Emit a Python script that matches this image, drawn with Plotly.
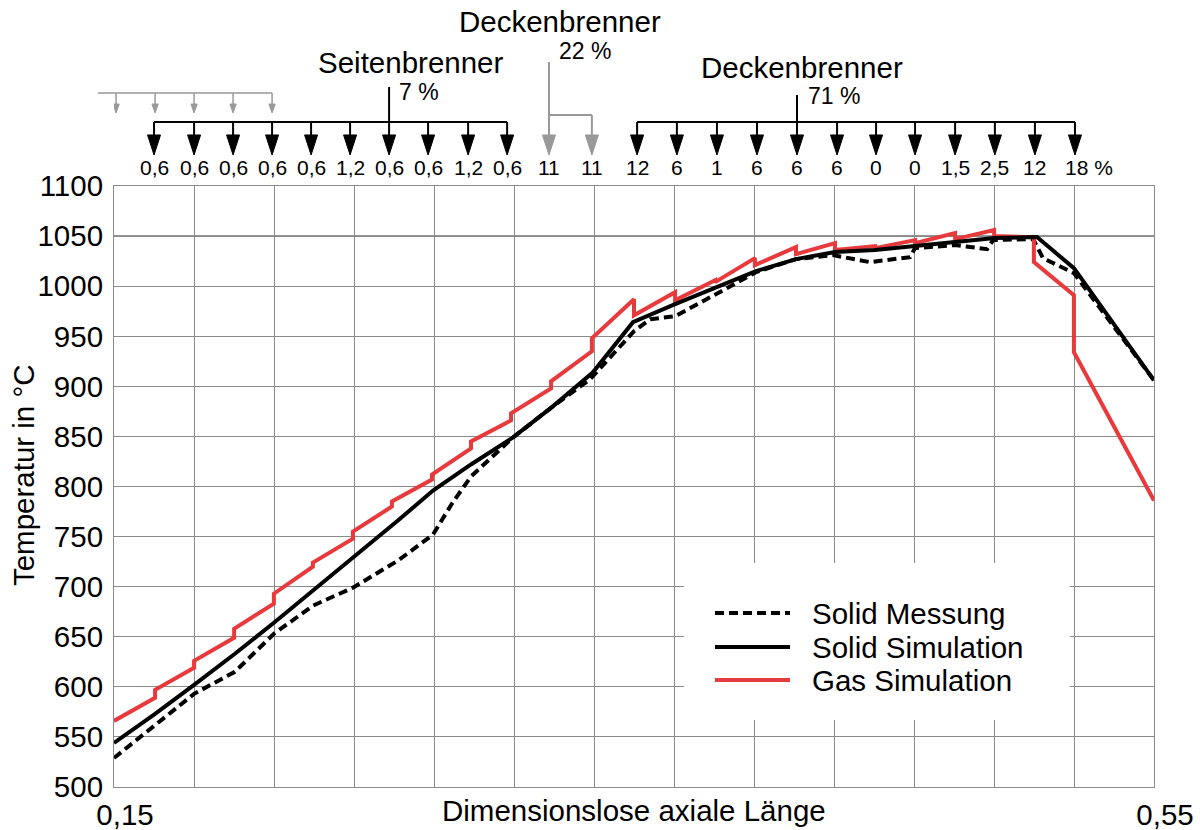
import plotly.graph_objects as go

FONT = "Liberation Sans, Arial, sans-serif"
X_MIN, X_MAX = 0.15, 0.55
Y_MIN, Y_MAX = 500, 1100
Y_TICKS = [500, 550, 600, 650, 700, 750, 800, 850, 900, 950, 1000, 1050, 1100]
X_TICKS = [0.15, 0.55]
X_TICKTEXT = ["0,15", "0,55"]

# Solid Messung (dashed black)
mess_x = [0.15, 0.1658, 0.1808, 0.1965, 0.2115, 0.2265, 0.2419, 0.2592, 0.2727, 0.28,
          0.2873, 0.3035, 0.3173, 0.3331, 0.35, 0.3562, 0.3658, 0.3815, 0.3969, 0.4123,
          0.4265, 0.4408, 0.4562, 0.4581, 0.4735, 0.4858, 0.4881, 0.5035, 0.5073, 0.5192, 0.55]
mess_y = [529, 562, 593, 615, 653, 681, 699, 726, 752, 783,
          810, 849, 877, 907, 955, 967, 970, 992, 1014, 1027,
          1031, 1024, 1029, 1038, 1041, 1037, 1046, 1047, 1028, 1013, 906]

# Solid Simulation (solid black)
sim_x = [0.15, 0.1658, 0.1808, 0.1965, 0.2115, 0.2265, 0.2419, 0.2592, 0.2727, 0.2873,
         0.3035, 0.3188, 0.3342, 0.3496, 0.3658, 0.3815, 0.3969, 0.4123, 0.4273, 0.4427,
         0.4581, 0.4735, 0.4888, 0.5050, 0.5192, 0.55]
sim_y = [544, 573, 602, 633, 664, 696, 729, 766, 796, 822,
         849, 880, 914, 964, 982, 999, 1015, 1027, 1034, 1036,
         1040, 1044, 1048, 1049, 1018, 906]

# Gas Simulation (red)
gas_x = [0.15, 0.1658, 0.1658, 0.1808, 0.1808, 0.1962, 0.1962, 0.2115, 0.2115, 0.2265, 0.2265,
         0.2419, 0.2419, 0.2569, 0.2569, 0.2723, 0.2723, 0.2873, 0.2873, 0.3027, 0.3027,
         0.3181, 0.3181, 0.3338, 0.3338, 0.35, 0.35, 0.3658, 0.3658, 0.3812, 0.3812,
         0.3965, 0.3965, 0.4123, 0.4123, 0.4273, 0.4273, 0.4427, 0.4427, 0.4581, 0.4581,
         0.4735, 0.4735, 0.4885, 0.4885, 0.5038, 0.5038, 0.5192, 0.5192, 0.55]
gas_y = [566, 589, 597, 619, 626, 649, 658, 683, 693, 720, 724,
         748, 755, 780, 785, 807, 812, 838, 845, 866, 873,
         898, 905, 935, 948, 987, 971, 994, 986, 1006, 1004,
         1028, 1021, 1039, 1032, 1043, 1036, 1040, 1038, 1046, 1043,
         1053, 1047, 1056, 1050, 1049, 1024, 991, 934, 786]

# Burner positions and shares
seiten_x = [0.1654, 0.1808, 0.1958, 0.2108, 0.2258, 0.2408, 0.2558, 0.2708, 0.2862, 0.3012]
seiten_lbl = ["0,6", "0,6", "0,6", "0,6", "0,6", "1,2", "0,6", "0,6", "1,2", "0,6"]
decken22_x = [0.3173, 0.3338]
decken22_lbl = ["11", "11"]
decken71_x = [0.3512, 0.3665, 0.3819, 0.3973, 0.4127, 0.4281, 0.4431, 0.4581, 0.4735, 0.4888, 0.5042, 0.5196]
decken71_lbl = ["12", "6", "1", "6", "6", "6", "0", "0", "1,5", "2,5", "12", "18 %"]
grey_top_x = [0.1508, 0.1658, 0.1808, 0.1958, 0.2108]
grey_top_start = 0.1438

RED = "#e8393c"
GREY = "#999999"
GRID = "#8a8a8a"
BIG = 29.5
SMALL = 21

fig = go.Figure()
fig.add_trace(go.Scatter(x=mess_x, y=mess_y, mode="lines", name="Solid Messung",
                         line=dict(color="black", width=4, dash="9px,5px"), showlegend=False))
fig.add_trace(go.Scatter(x=gas_x, y=gas_y, mode="lines", name="Gas Simulation",
                         line=dict(color=RED, width=4), showlegend=False))
fig.add_trace(go.Scatter(x=sim_x, y=sim_y, mode="lines", name="Solid Simulation",
                         line=dict(color="black", width=4), showlegend=False))

shapes = []
annotations = []

# black 1050 grid line
shapes.append(dict(type="line", xref="paper", yref="y", x0=0, x1=1, y0=1050, y1=1050,
                   line=dict(color="black", width=1), layer="between"))

# paper y positions of the burner diagram
Y_BAR = 1.1065
Y_HEAD = 1.0849
Y_TIP = 1.0516
Y_LBL = 1.030
HALF = 0.0025


def down_arrow(x, y_top, color):
    shapes.append(dict(type="line", xref="x", yref="paper", x0=x, x1=x, y0=y_top, y1=Y_HEAD,
                       line=dict(color=color, width=2)))
    shapes.append(dict(type="path", xref="x", yref="paper",
                       path=f"M {x - HALF},{Y_HEAD} L {x + HALF},{Y_HEAD} L {x},{Y_TIP} Z",
                       fillcolor=color, line=dict(color=color, width=1)))


def hline(x0, x1, y, color, width=2, xref="x"):
    shapes.append(dict(type="line", xref=xref, yref="paper", x0=x0, x1=x1, y0=y, y1=y,
                       line=dict(color=color, width=width)))


def vline(x, y0, y1, color, width=2):
    shapes.append(dict(type="line", xref="x", yref="paper", x0=x, x1=x, y0=y0, y1=y1,
                       line=dict(color=color, width=width)))


def text(x, y, s, size, xref="x", xanchor="center", textangle=0, xshift=0):
    annotations.append(dict(x=x, y=y, xref=xref, yref="paper", text=s, showarrow=False,
                            xanchor=xanchor, yanchor="middle", textangle=textangle, xshift=xshift,
                            font=dict(family=FONT, size=size, color="black")))


# Seitenbrenner group
hline(seiten_x[0], seiten_x[-1], Y_BAR, "black")
vline(seiten_x[6], Y_BAR, 1.1647, "black")
for x, lbl in zip(seiten_x, seiten_lbl):
    down_arrow(x, Y_BAR, "black")
    text(x, Y_LBL, lbl, SMALL)
text(0.2642, 1.2047, "Seitenbrenner", BIG)
text(0.2673, 1.1564, "7 %", 23)

# Deckenbrenner 22 % (grey)
vline(decken22_x[0], 1.2063, Y_HEAD, GREY)
hline(decken22_x[0], decken22_x[1], 1.1181, GREY)
vline(decken22_x[1], 1.1181, Y_HEAD, GREY)
for x, lbl in zip(decken22_x, decken22_lbl):
    shapes.append(dict(type="path", xref="x", yref="paper",
                       path=f"M {x - HALF},{Y_HEAD} L {x + HALF},{Y_HEAD} L {x},{Y_TIP} Z",
                       fillcolor=GREY, line=dict(color=GREY, width=1)))
    text(x, Y_LBL, lbl, SMALL)
text(0.3215, 1.2745, "Deckenbrenner", BIG)
text(0.3312, 1.2250, "22 %", 23)

# Deckenbrenner 71 %
hline(decken71_x[0], decken71_x[-1], Y_BAR, "black")
vline(decken71_x[4], Y_BAR, 1.1514, "black")
for x, lbl in zip(decken71_x, decken71_lbl):
    down_arrow(x, Y_BAR, "black")
    if lbl.endswith("%"):
        text(x, Y_LBL, lbl, SMALL, xanchor="left", xshift=-12)
    else:
        text(x, Y_LBL, lbl, SMALL)
text(0.4148, 1.1972, "Deckenbrenner", BIG)
text(0.4269, 1.1498, "71 %", 23)

# grey upper arrows
GY_BAR = 1.1547
GY_HEAD = 1.1364
GY_TIP = 1.1215
GH = 0.0012
px0 = (grey_top_start - X_MIN) / (X_MAX - X_MIN)
px1 = (grey_top_x[-1] - X_MIN) / (X_MAX - X_MIN)
hline(px0, px1, GY_BAR, GREY, width=1.5, xref="paper")
for x in grey_top_x:
    vline(x, GY_BAR, GY_HEAD, GREY, width=1.5)
    shapes.append(dict(type="path", xref="x", yref="paper",
                       path=f"M {x - GH},{GY_HEAD} L {x + GH},{GY_HEAD} L {x},{GY_TIP} Z",
                       fillcolor=GREY, line=dict(color=GREY, width=1)))

# axis titles
text(0.5, -0.0383, "Dimensionslose axiale Länge", BIG, xref="paper")
text(-0.0875, 0.519, "Temperatur in °C", BIG, xref="paper", textangle=-90)

# manual legend
shapes.append(dict(type="rect", xref="paper", yref="paper", x0=0.548, x1=0.919, y0=0.1115, y1=0.3727,
                   fillcolor="white", line=dict(width=0), layer="above"))
leg = [("Solid Messung", dict(color="black", width=4, dash="9px,5px"), 0.2895),
       ("Solid Simulation", dict(color="black", width=4), 0.2329),
       ("Gas Simulation", dict(color=RED, width=4), 0.1780)]
for name, ln, y in leg:
    shapes.append(dict(type="line", xref="paper", yref="paper", x0=0.5779, x1=0.6500, y0=y, y1=y,
                       line=ln, layer="above"))
    text(0.6692, y, name, BIG, xref="paper", xanchor="left")

fig.update_layout(
    width=1200, height=830,
    margin=dict(l=114, r=46, t=186, b=43),
    paper_bgcolor="white", plot_bgcolor="white",
    showlegend=False,
    shapes=shapes, annotations=annotations,
    font=dict(family=FONT, size=BIG, color="black"),
    xaxis=dict(range=[X_MIN, X_MAX], tickvals=X_TICKS, ticktext=X_TICKTEXT, automargin=False,
               showgrid=True, gridcolor=GRID, gridwidth=1,
               minor=dict(tick0=X_MIN, dtick=(X_MAX - X_MIN) / 13, showgrid=True,
                          gridcolor=GRID, gridwidth=1),
               showline=True, linecolor=GRID, linewidth=1, mirror=True,
               zeroline=False, ticks="", ticklabelshift=11, ticklabelstandoff=2,
               tickfont=dict(family=FONT, size=BIG, color="black")),
    yaxis=dict(range=[Y_MIN, Y_MAX], tickvals=Y_TICKS, automargin=False,
               showgrid=True, gridcolor=GRID, gridwidth=1,
               showline=True, linecolor=GRID, linewidth=1, mirror=True,
               zeroline=False, ticks="", ticklabelstandoff=4,
               tickfont=dict(family=FONT, size=BIG, color="black")),
)

fig.write_html(
    "out.html",
    config={"displayModeBar": False},
    post_script="document.body.style.margin='0px';document.documentElement.style.overflow='hidden';",
)
